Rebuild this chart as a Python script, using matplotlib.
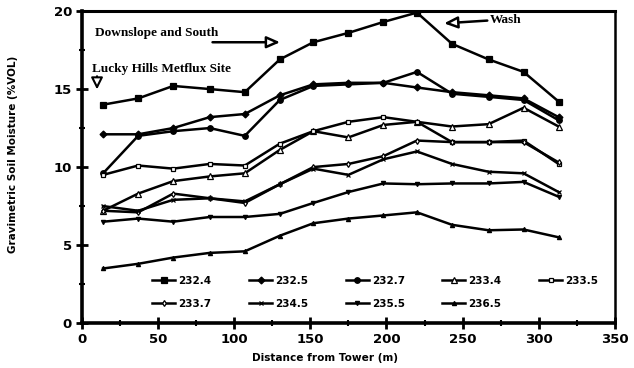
import matplotlib
matplotlib.use("Agg")
import matplotlib.pyplot as plt
from matplotlib.ticker import MultipleLocator

# distance from tower (m)
distance = [14, 37, 60, 84, 107, 130, 152, 175, 198, 220, 243, 267, 290, 313]

s232_4 = [14.0, 14.4, 15.2, 15.0, 14.8, 16.9, 18.0, 18.6, 19.3, 19.9, 17.9, 16.9, 16.1, 14.2]
s232_5 = [12.1, 12.1, 12.5, 13.2, 13.4, 14.6, 15.3, 15.4, 15.4, 15.1, 14.8, 14.6, 14.4, 13.2]
s232_7 = [9.6, 12.0, 12.3, 12.5, 12.0, 14.3, 15.2, 15.3, 15.4, 16.1, 14.7, 14.5, 14.3, 13.0]
s233_4 = [7.2, 8.3, 9.1, 9.4, 9.6, 11.1, 12.3, 11.9, 12.7, 12.9, 12.6, 12.75, 13.8, 12.6]
s233_5 = [9.5, 10.1, 9.9, 10.2, 10.1, 11.5, 12.3, 12.9, 13.2, 12.9, 11.6, 11.6, 11.7, 10.2]
s233_7 = [7.2, 7.1, 8.3, 8.0, 7.7, 8.9, 10.0, 10.2, 10.7, 11.7, 11.6, 11.6, 11.6, 10.3]
s234_5 = [7.5, 7.2, 7.9, 8.0, 7.8, 8.9, 9.9, 9.5, 10.5, 11.0, 10.2, 9.7, 9.6, 8.4]
s235_5 = [6.5, 6.7, 6.5, 6.8, 6.8, 7.0, 7.7, 8.4, 8.95, 8.9, 8.95, 8.95, 9.05, 8.1]
s236_5 = [3.5, 3.8, 4.2, 4.5, 4.6, 5.6, 6.4, 6.7, 6.9, 7.1, 6.3, 5.95, 6.0, 5.5]

series = [
    ("232.4", s232_4, dict(marker="s", mfc="black", ms=4.5)),
    ("232.5", s232_5, dict(marker="D", mfc="black", ms=3.5)),
    ("232.7", s232_7, dict(marker="o", mfc="black", ms=4)),
    ("233.4", s233_4, dict(marker="^", mfc="white", ms=4)),
    ("233.5", s233_5, dict(marker="s", mfc="white", ms=3.5)),
    ("233.7", s233_7, dict(marker="d", mfc="white", ms=3)),
    ("234.5", s234_5, dict(marker="x", mfc="black", ms=3)),
    ("235.5", s235_5, dict(marker="v", mfc="black", ms=3)),
    ("236.5", s236_5, dict(marker="^", mfc="black", ms=3)),
]

fig = plt.figure(figsize=(6.34, 3.68), dpi=100)
ax = fig.add_axes([0.129, 0.122, 0.841, 0.848])

handles = {}
for name, vals, style in series:
    (ln,) = ax.plot(distance, vals, color="black", lw=1.8, mec="black", mew=0.9, label=name, **style)
    handles[name] = ln

ax.set_xlim(0, 350)
ax.set_ylim(0, 20)
ax.xaxis.set_major_locator(MultipleLocator(50))
ax.xaxis.set_minor_locator(MultipleLocator(25))
ax.yaxis.set_major_locator(MultipleLocator(5))
ax.yaxis.set_minor_locator(MultipleLocator(2.5))
ax.tick_params(which="major", direction="inout", length=8, width=2.0, labelsize=9.5, pad=3)
ax.tick_params(which="minor", direction="inout", length=5, width=1.5)
ax.tick_params(top=False, right=False)
for lbl in ax.get_xticklabels() + ax.get_yticklabels():
    lbl.set_fontweight("heavy")
    lbl.set_family("DejaVu Sans")

ax.spines["left"].set_linewidth(2.6)
ax.spines["bottom"].set_linewidth(2.6)
ax.spines["top"].set_linewidth(2.2)
ax.spines["right"].set_linewidth(1.8)

ax.set_xlabel("Distance from Tower (m)", fontsize=7.6, fontweight="heavy")
ax.xaxis.set_label_coords(0.456, -0.095)
ax.set_ylabel("Gravimetric Soil Moisture (%VOL)", fontsize=7.5, fontweight="heavy")
ax.yaxis.set_label_coords(-0.12, 0.54)

# legend laid out row by row (2 rows x 5 columns)
order = ["232.4", "233.7", "232.5", "234.5", "232.7", "235.5", "233.4", "236.5", "233.5"]
ax.legend([handles[n] for n in order], order, ncol=5, frameon=False,
          loc="lower left", bbox_to_anchor=(0.115, 0.015),
          prop=dict(family="DejaVu Sans", weight="heavy", size=7.5),
          handlelength=2.2, handletextpad=0.3, columnspacing=3.6, labelspacing=1.25)

# annotations
serif = dict(family="Liberation Serif", weight="bold", size=9.5)
ax.text(8.5, 18.6, "Downslope and South", va="center", ha="left", **serif)
ax.annotate("", xy=(132, 18.0), xytext=(84, 18.0),
            arrowprops=dict(arrowstyle="-|>,head_length=0.8,head_width=0.35", lw=1.8,
                            fc="white", ec="black"))
ax.text(6.5, 16.3, "Lucky Hills Metflux Site", va="center", ha="left", **serif)
ax.annotate("", xy=(10, 14.8), xytext=(10, 16.0),
            arrowprops=dict(arrowstyle="-|>,head_length=0.7,head_width=0.35", lw=1.5,
                            fc="white", ec="black"))
ax.text(268, 19.45, "Wash", va="center", ha="left", **serif)
ax.annotate("", xy=(236, 19.2), xytext=(268, 19.4),
            arrowprops=dict(arrowstyle="-|>,head_length=0.8,head_width=0.35", lw=1.8,
                            fc="white", ec="black"))

fig.savefig("out.png", dpi=100)
